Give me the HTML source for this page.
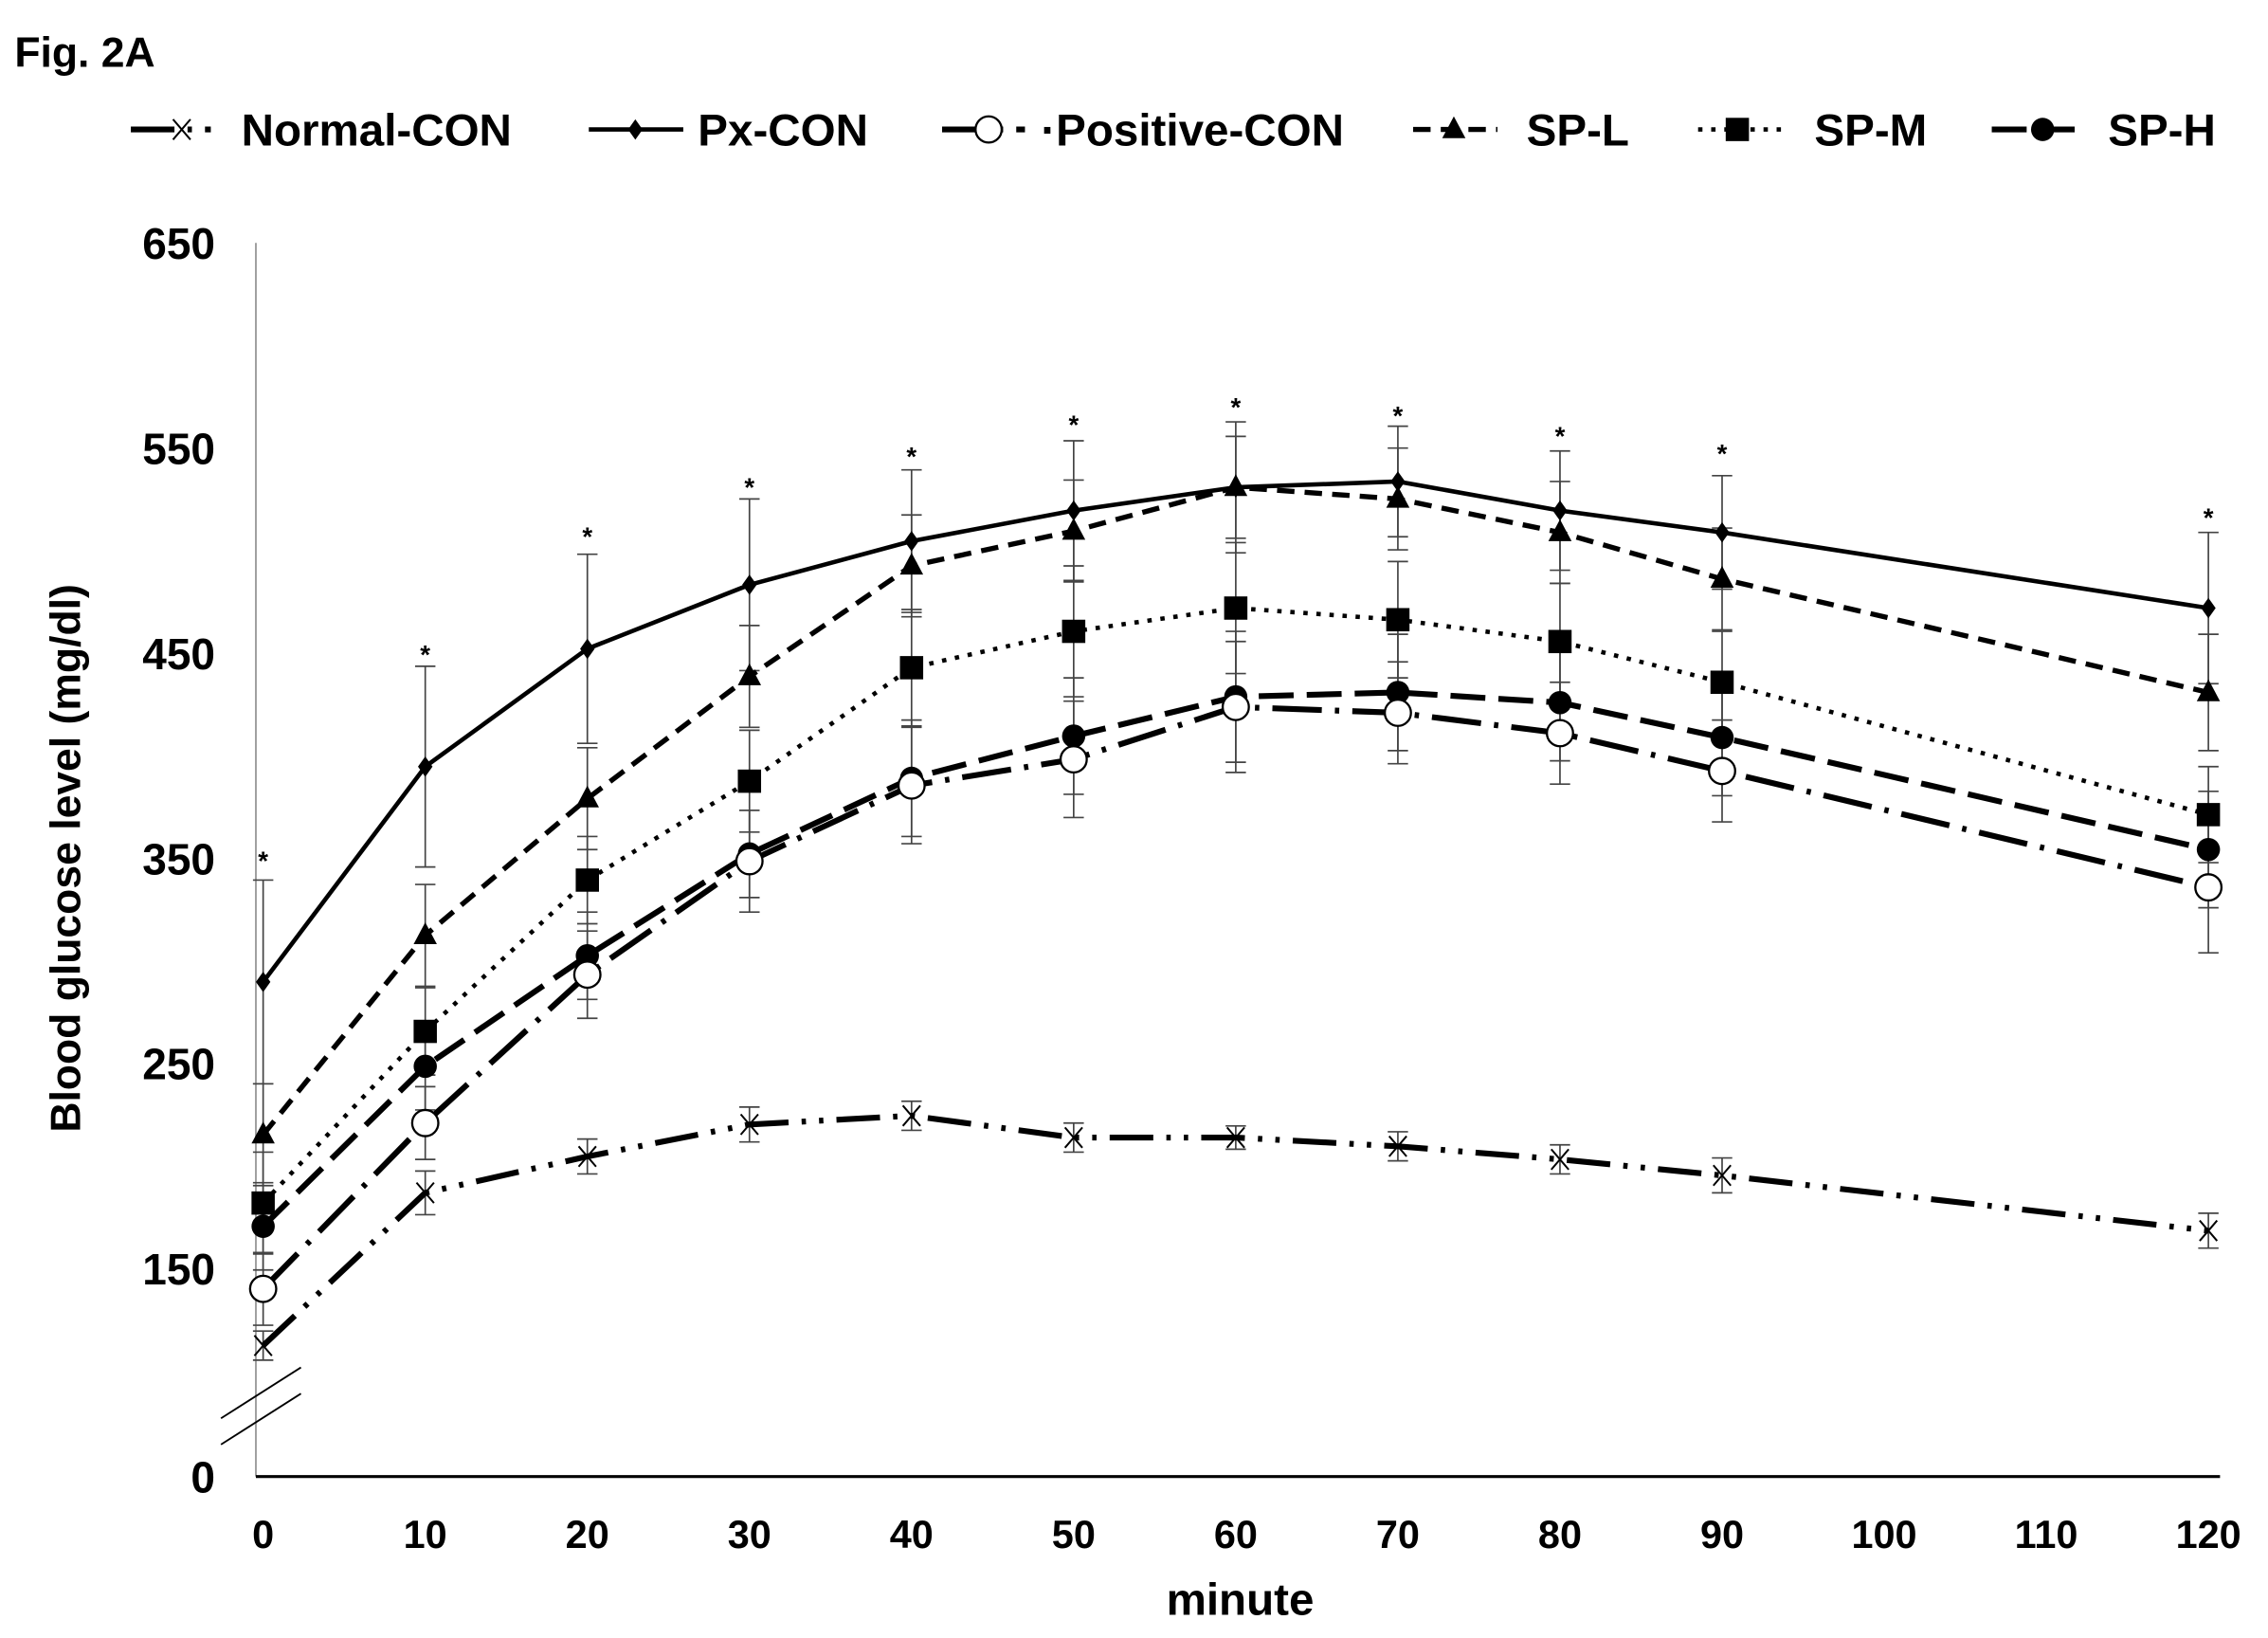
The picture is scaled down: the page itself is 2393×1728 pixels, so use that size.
<!DOCTYPE html>
<html><head><meta charset="utf-8"><style>
html,body{margin:0;padding:0;background:#fff;}
svg{display:block;}
text{font-family:"Liberation Sans",Arial,sans-serif;font-weight:bold;fill:#000;}
</style></head><body>
<svg id="s" width="2393" height="1728" viewBox="0 0 1560 1126" preserveAspectRatio="none" xmlns="http://www.w3.org/2000/svg">
<text x="10" y="46" font-size="29">Fig. 2A</text>
<g font-size="31">
<text x="166" y="100">Normal-CON</text>
<text x="480" y="100">Px-CON</text>
<text x="716" y="100">·Positive-CON</text>
<text x="1050" y="100">SP-L</text>
<text x="1248" y="100">SP-M</text>
<text x="1450" y="100">SP-H</text>
</g>
<g font-size="30" text-anchor="end">
<text x="148" y="178">650</text>
<text x="148" y="319">550</text>
<text x="148" y="460">450</text>
<text x="148" y="601">350</text>
<text x="148" y="742">250</text>
<text x="148" y="883">150</text>
<text x="148" y="1026">0</text>
</g>
<g font-size="27" text-anchor="middle" id="xl"></g>
<text x="853" y="1110" font-size="31" text-anchor="middle">minute</text>
<text transform="translate(55,590) rotate(-90)" font-size="29" text-anchor="middle">Blood glucose level (mg/dl)</text>
<line x1="176" y1="167" x2="176" y2="1015" stroke="#999" stroke-width="1.2"/>
<line x1="176" y1="1015" x2="1527" y2="1015" stroke="#000" stroke-width="2"/>
<line x1="152" y1="975" x2="207" y2="940" stroke="#000" stroke-width="1.2"/>
<line x1="152" y1="993" x2="207" y2="958" stroke="#000" stroke-width="1.2"/>
<g id="g"></g>
</svg>
<script>
var NS="http://www.w3.org/2000/svg",g=document.getElementById('g'),xl=document.getElementById('xl');
function el(t,a,p){var e=document.createElementNS(NS,t);for(var k in a)e.setAttribute(k,a[k]);(p||g).appendChild(e);return e;}
var mins=[0,10,20,30,40,50,60,70,80,90,120];
function X(m){return 181+m*11.15;}
for(var m=0;m<=120;m+=10){var t=el('text',{x:X(m),y:1064},xl);t.textContent=m;}
var S=[
{y:[925,820,795,773,767,782,782,788,797,808,846],e:[10,15,12,12,10,10,8,10,10,12,12],d:"30,9,3,9,3,9",w:4,mk:'x'},
{y:[843,733,657,587,535,506,479,476,483,507,584],e:[30,30,30,30,40,40,45,40,40,40,40],d:"24,9",w:4,mk:'dot'},
{y:[886,772,670,592,540,522,486,490,504,530,610],e:[25,25,30,35,40,40,45,35,35,35,45],d:"34,9,3,9",w:4,mk:'oc'},
{y:[827,709,605,537,459,434,418,426,441,469,560],e:[35,30,30,35,40,45,45,40,40,35,33],d:"3,6",w:3,mk:'sq'},
{y:[780,643,549,465,389,365,335,343,366,398,476],e:[35,35,35,35,35,35,35,35,35,35,40],d:"12,7",w:3.5,mk:'tri'},
{y:[675,527,446,402,372,351,335,331,351,366,418],e:[70,69,65,59,49,48,45,38,41,39,52],d:"",w:3,mk:'dia'}
];
var ast=[590,448,367,333,312,290,278,284,298,310,354];
S.forEach(function(s){
 s.y.forEach(function(y,i){var x=X(mins[i]);
  el('line',{x1:x,y1:y-s.e[i],x2:x,y2:y+s.e[i],stroke:'#444','stroke-width':1.1});
  el('line',{x1:x-7,y1:y-s.e[i],x2:x+7,y2:y-s.e[i],stroke:'#444','stroke-width':1.1});
  el('line',{x1:x-7,y1:y+s.e[i],x2:x+7,y2:y+s.e[i],stroke:'#444','stroke-width':1.1});
 });
});
function marker(k,x,y){
 if(k=='x'){el('path',{d:'M'+(x-6)+' '+(y-7)+'L'+(x+6)+' '+(y+7)+'M'+(x+6)+' '+(y-7)+'L'+(x-6)+' '+(y+7),stroke:'#000','stroke-width':1.3});}
 else if(k=='dot')el('circle',{cx:x,cy:y,r:8,fill:'#000'});
 else if(k=='oc')el('circle',{cx:x,cy:y,r:9,fill:'#fff',stroke:'#000','stroke-width':1.5});
 else if(k=='sq')el('rect',{x:x-8,y:y-8,width:16,height:16,fill:'#000'});
 else if(k=='tri')el('path',{d:'M'+x+' '+(y-9)+'L'+(x+8)+' '+(y+6)+'L'+(x-8)+' '+(y+6)+'Z',fill:'#000'});
 else if(k=='dia')el('path',{d:'M'+x+' '+(y-7)+'L'+(x+5)+' '+y+'L'+x+' '+(y+7)+'L'+(x-5)+' '+y+'Z',fill:'#000'});
}
S.forEach(function(s){
 var p=s.y.map(function(y,i){return (i?'L':'M')+X(mins[i])+' '+y;}).join('');
 var a={d:p,fill:'none',stroke:'#000','stroke-width':s.w,'stroke-linejoin':'round'};
 if(s.d)a['stroke-dasharray']=s.d;
 el('path',a);
 s.y.forEach(function(y,i){marker(s.mk,X(mins[i]),y);});
});
ast.forEach(function(y,i){var t=el('text',{x:X(mins[i]),y:y+8,'font-size':18,'text-anchor':'middle','font-weight':'normal'});t.textContent='*';});
var L=[[90,145,125,"30,9,3,9",4,'x'],[405,470,437,"",3,'dia'],[648,705,680,"30,9,3,9",4,'oc'],[972,1030,1000,"12,7",3.5,'tri'],[1168,1225,1195,"3,6",3,'sq'],[1370,1430,1405,"24,9",4,'dot']];
L.forEach(function(l){var a={x1:l[0],y1:89,x2:l[1],y2:89,stroke:'#000','stroke-width':l[4]};if(l[3])a['stroke-dasharray']=l[3];el('line',a);marker(l[5],l[2],89);});
</script>
</body></html>
